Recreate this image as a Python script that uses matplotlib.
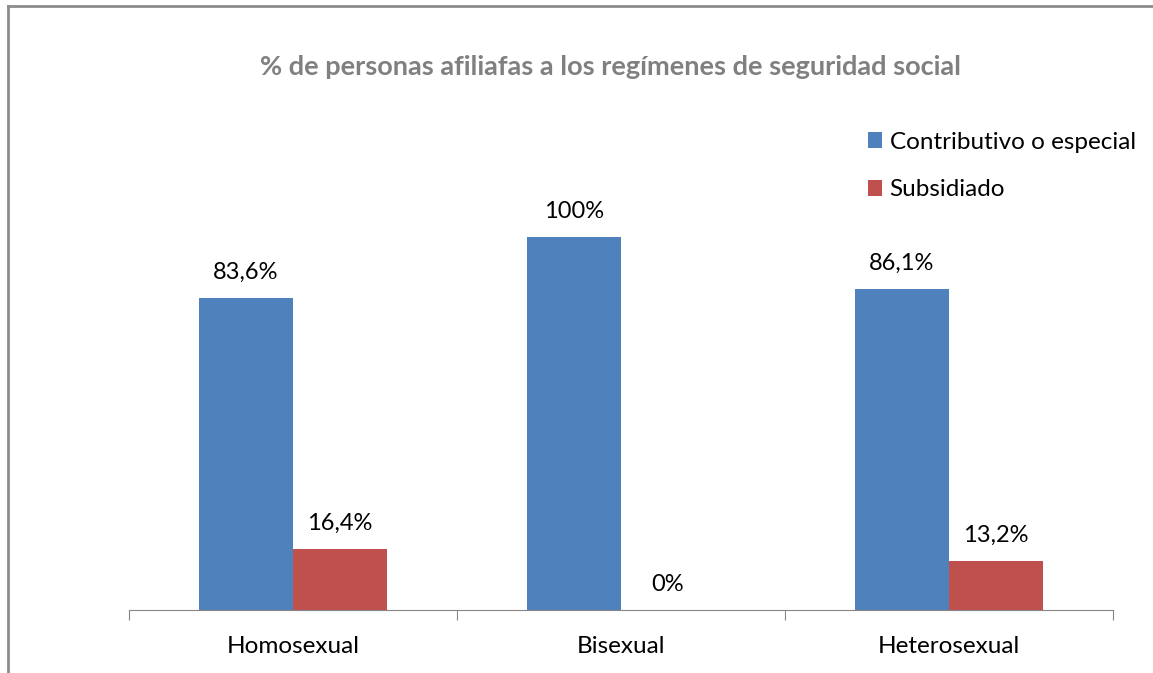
import matplotlib
matplotlib.use("Agg")
import matplotlib.pyplot as plt
from matplotlib.lines import Line2D
import numpy as np

categories = ["Homosexual", "Bisexual", "Heterosexual"]
contributivo = [83.6, 100, 86.1]
subsidiado = [16.4, 0, 13.2]
contributivo_labels = ["83,6%", "100%", "86,1%"]
subsidiado_labels = ["16,4%", "0%", "13,2%"]

plt.rcParams['font.family'] = ['Lato', 'DejaVu Sans']

W, H = 1153, 673
fig = plt.figure(figsize=(W / 100, H / 100), dpi=100)
ax = fig.add_axes([129 / W, 1 - 610 / H, (1113 - 129) / W, (610 - 237) / H])

x = np.arange(len(categories))
w = 94 / 328
blue, red = "#4F81BD", "#C0504D"
ax.bar(x - w / 2, contributivo, w, color=blue, label="Contributivo o especial")
ax.bar(x + w / 2, subsidiado, w, color=red, label="Subsidiado")

for i in range(len(categories)):
    ax.annotate(contributivo_labels[i], (x[i] - w / 2, contributivo[i]), xytext=(0, 11),
                textcoords="offset points", ha="center", va="bottom", fontsize=17, clip_on=False)
    ax.annotate(subsidiado_labels[i], (x[i] + w / 2, subsidiado[i]), xytext=(0, 11),
                textcoords="offset points", ha="center", va="bottom", fontsize=17, clip_on=False)

ax.set_xlim(-0.5, 2.5)
ax.set_ylim(0, 100)
ax.set_yticks([])
for s in ["top", "right", "left"]:
    ax.spines[s].set_visible(False)
ax.spines["bottom"].set_color("#868686")
ax.set_xticks([-0.5, 0.5, 1.5, 2.5])
ax.set_xticklabels([])
ax.set_xticks(x, minor=True)
ax.set_xticklabels(categories, minor=True, fontsize=17.5)
ax.tick_params(axis="x", which="major", length=7, color="#868686")
ax.tick_params(axis="x", which="minor", length=0, pad=19)

fig.text(610 / W, 1 - 67 / H, "% de personas afiliafas a los regímenes de seguridad social",
         ha="center", va="center", fontsize=19.5, fontweight="bold", color="#808080")

ax.legend(loc="upper left", bbox_to_anchor=(858 / W, 1 - 122 / H), bbox_transform=fig.transFigure,
          frameon=False, fontsize=17.5, handlelength=0.6, handleheight=0.6, handletextpad=0.3,
          labelspacing=1.1, borderaxespad=0)

# chart frame (left and top edges visible)
fx, fy = 7.5 / W, 1 - 5.5 / H
fig.add_artist(Line2D([fx, fx], [0, fy], transform=fig.transFigure, color="#8c8c8c", linewidth=2))
fig.add_artist(Line2D([fx, 1], [fy, fy], transform=fig.transFigure, color="#8c8c8c", linewidth=2))

fig.savefig("out.png", dpi=100)
